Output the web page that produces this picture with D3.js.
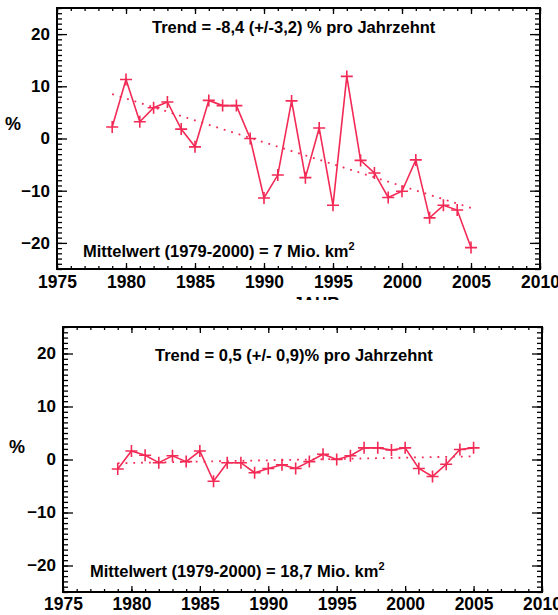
<!DOCTYPE html>
<html>
<head>
<meta charset="utf-8">
<script src="https://cdn.jsdelivr.net/npm/d3@7"></script>
<style>
  body { margin: 0; background: #fff; }
  svg { display: block; font-family: "Liberation Sans", Arial, sans-serif; font-weight: bold; }
</style>
</head>
<body>
<div id="chart"></div>
<script>
const years = [1979, 1980, 1981, 1982, 1983, 1984, 1985, 1986, 1987, 1988, 1989, 1990, 1991,
    1992, 1993, 1994, 1995, 1996, 1997, 1998, 1999, 2000, 2001, 2002, 2003, 2004, 2005];

// Anomalie in % (oben / unten)
const topValues = [2.2, 11.3, 3.2, 5.9, 7.0, 1.8, -1.6, 7.3, 6.3, 6.3, 0.0, -11.4, -7.0,
    7.2, -7.5, 2.0, -12.8, 11.9, -4.2, -6.6, -11.3, -10.1, -4.1, -15.2, -12.8, -13.7, -20.9];
const bottomValues = [-1.8, 1.6, 0.8, -0.6, 0.7, -0.4, 1.6, -4.1, -0.6, -0.6, -2.5, -1.7, -1.0,
    -1.7, -0.4, 1.0, 0.0, 0.7, 2.2, 2.2, 1.8, 2.2, -1.7, -3.2, -0.9, 1.9, 2.2];

// Trendlinien (Start- und Endwert)
const trendYears = [1979, 2005];
const topTrend = [8.5, -13.3];
const bottomTrend = [-0.7, 0.6];

const xTicks = [1975, 1980, 1985, 1990, 1995, 2000, 2005, 2010];
const yTicks = [-20, -10, 0, 10, 20];

const topTexts = ["Trend = -8,4 (+/-3,2) % pro Jahrzehnt", "Mittelwert (1979-2000) = 7 Mio. km"];
const bottomTexts = ["Trend = 0,5 (+/- 0,9)% pro Jahrzehnt", "Mittelwert (1979-2000) = 18,7 Mio. km"];

const red = "#f22a55";

const svg = d3.select("#chart").append("svg")
    .attr("width", 558)
    .attr("height", 615);

const drawPanel = (box, values, trend, texts, opts) => {
    const x = d3.scaleLinear().domain([1975, 2010]).range([box.x0, box.x1]);
    const y = d3.scaleLinear().domain([-25, 25]).range([box.y1, box.y0]);

    const g = svg.append("g");

    const minorX = d3.range(1975, 2011, 1);
    const minorY = d3.range(-25, 26, 1);

    // kleine Ticks auf allen vier Seiten
    g.append("g").attr("transform", `translate(0,${box.y1})`)
        .call(d3.axisBottom(x).tickValues(minorX).tickSize(-3).tickFormat(""));
    g.append("g").attr("transform", `translate(0,${box.y0})`)
        .call(d3.axisTop(x).tickValues(minorX).tickSize(-3).tickFormat(""));
    g.append("g").attr("transform", `translate(${box.x0},0)`)
        .call(d3.axisLeft(y).tickValues(minorY).tickSize(-5).tickFormat(""));
    g.append("g").attr("transform", `translate(${box.x1},0)`)
        .call(d3.axisRight(y).tickValues(minorY).tickSize(-5).tickFormat(""));

    // große Ticks
    const xb = g.append("g").attr("transform", `translate(0,${box.y1})`)
        .call(d3.axisBottom(x).tickValues(xTicks).tickSize(-6).tickPadding(opts.xPad).tickFormat(d3.format("d")));
    g.append("g").attr("transform", `translate(0,${box.y0})`)
        .call(d3.axisTop(x).tickValues(xTicks).tickSize(-6).tickFormat(""));
    const yl = g.append("g").attr("transform", `translate(${box.x0},0)`)
        .call(d3.axisLeft(y).tickValues(yTicks).tickSize(-10).tickPadding(7));
    g.append("g").attr("transform", `translate(${box.x1},0)`)
        .call(d3.axisRight(y).tickValues(yTicks).tickSize(-10).tickFormat(""));

    g.selectAll(".domain").remove();
    g.selectAll(".tick line").attr("stroke", "#000").attr("stroke-width", 1.3);

    xb.selectAll("text")
        .attr("fill", "#000")
        .style("font-size", "19px")
        .attr("transform", "scale(0.92,1)");
    yl.selectAll("text")
        .attr("fill", "#000")
        .style("font-size", "17px");

    g.append("rect")
        .attr("x", box.x0)
        .attr("y", box.y0)
        .attr("width", box.x1 - box.x0)
        .attr("height", box.y1 - box.y0)
        .attr("fill", "none")
        .attr("stroke", "#000")
        .attr("stroke-width", 2);

    g.append("text")
        .attr("x", opts.pctX)
        .attr("y", y(0) - opts.pctDy)
        .attr("text-anchor", "middle")
        .style("font-size", "18px")
        .text("%");

    // Trend
    g.append("line")
        .attr("x1", x(trendYears[0]))
        .attr("y1", y(trend[0]))
        .attr("x2", x(trendYears[1]))
        .attr("y2", y(trend[1]))
        .attr("stroke", red)
        .attr("stroke-width", 1.8)
        .attr("stroke-dasharray", "1.8,6");

    const line = d3.line()
        .x((d, i) => x(years[i]))
        .y(d => y(d));

    g.append("path")
        .datum(values)
        .attr("d", line)
        .attr("fill", "none")
        .attr("stroke", red)
        .attr("stroke-width", 1.6);

    g.selectAll(".mark")
        .data(values)
        .enter()
        .append("path")
        .attr("class", "mark")
        .attr("transform", (d, i) => `translate(${x(years[i])},${y(d)})`)
        .attr("d", "M-6,0H6M0,-6V6")
        .attr("stroke", red)
        .attr("stroke-width", 1.6);

    g.append("text")
        .attr("x", opts.trendX)
        .attr("y", box.y0 + opts.trendDy)
        .style("font-size", "16.5px")
        .text(texts[0]);

    const mw = g.append("text")
        .attr("x", opts.meanX)
        .attr("y", box.y1 - opts.meanDy)
        .style("font-size", "16.5px")
        .text(texts[1]);
    mw.append("tspan")
        .attr("dy", -7)
        .style("font-size", "11px")
        .text("2");

    return x;
};

const xTop = drawPanel({ x0: 57, x1: 540, y0: 8, y1: 269 }, topValues, topTrend, topTexts,
    { xPad: 6, pctX: 13, pctDy: 9, trendX: 152, trendDy: 25, meanX: 83, meanDy: 12 });

// abgeschnittene Achsenbeschriftung
svg.append("clipPath").attr("id", "cut")
    .append("rect").attr("x", 0).attr("y", 0).attr("width", 558).attr("height", 300);
svg.append("text")
    .attr("clip-path", "url(#cut)")
    .attr("x", xTop(1993.8))
    .attr("y", 309)
    .attr("text-anchor", "middle")
    .style("font-size", "17px")
    .text("JAHR");

drawPanel({ x0: 63, x1: 542, y0: 327, y1: 592 }, bottomValues, bottomTrend, bottomTexts,
    { xPad: 5, pctX: 17, pctDy: 7, trendX: 155, trendDy: 34, meanX: 90, meanDy: 15 });
</script>
</body>
</html>
